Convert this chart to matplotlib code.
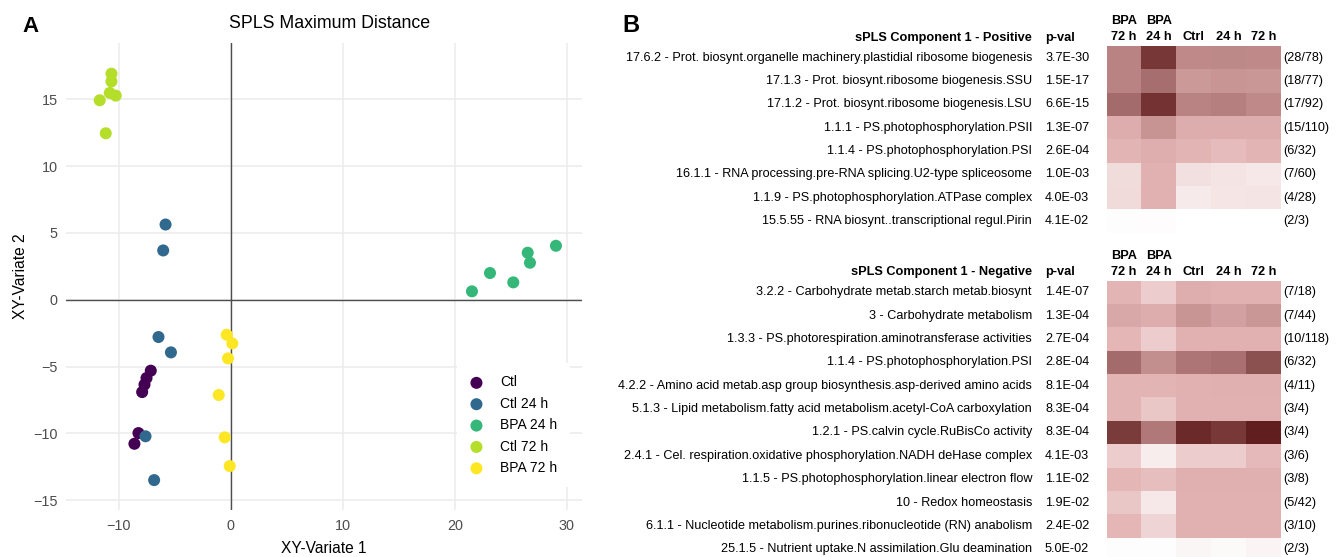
import numpy as np
import matplotlib.pyplot as plt
from matplotlib.colors import LinearSegmentedColormap

plt.rcParams["font.family"] = ["Liberation Sans", "DejaVu Sans"]

# ---- panel A: sPLS scores ----
groups = ["Ctl", "Ctl 24 h", "BPA 24 h", "Ctl 72 h", "BPA 72 h"]
group_colors = ["#440154", "#31688E", "#35B779", "#B5DE2B", "#FDE725"]

ctl_x = [-7.14, -7.52, -7.70, -7.91, -8.24, -8.60]
ctl_y = [-5.31, -5.86, -6.35, -6.91, -9.98, -10.78]
ctl24_x = [-5.82, -6.03, -6.45, -5.34, -7.61, -6.84]
ctl24_y = [5.63, 3.69, -2.79, -3.94, -10.22, -13.50]
bpa24_x = [21.54, 23.15, 25.23, 26.52, 26.72, 29.04]
bpa24_y = [0.63, 2.00, 1.30, 3.52, 2.77, 4.04]
ctl72_x = [-10.65, -10.65, -10.80, -10.27, -11.70, -11.16]
ctl72_y = [16.92, 16.34, 15.48, 15.28, 14.93, 12.46]
bpa72_x = [-0.36, 0.14, -0.24, -1.07, -0.54, -0.09]
bpa72_y = [-2.62, -3.27, -4.39, -7.13, -10.30, -12.45]

x_ticks = [-10, 0, 10, 20, 30]
y_ticks = [-15, -10, -5, 0, 5, 10, 15]

# ---- panel B: enrichment heatmaps ----
col_top = ["BPA", "BPA", "", "", ""]
col_bottom = ["72 h", "24 h", "Ctrl", "24 h", "72 h"]

pos_labels = [
    "17.6.2 - Prot. biosynt.organelle machinery.plastidial ribosome biogenesis",
    "17.1.3 - Prot. biosynt.ribosome biogenesis.SSU",
    "17.1.2 - Prot. biosynt.ribosome biogenesis.LSU",
    "1.1.1 - PS.photophosphorylation.PSII",
    "1.1.4 - PS.photophosphorylation.PSI",
    "16.1.1 - RNA processing.pre-RNA splicing.U2-type spliceosome",
    "1.1.9 - PS.photophosphorylation.ATPase complex",
    "15.5.55 - RNA biosynt..transcriptional regul.Pirin",
]
pos_pvals = ["3.7E-30", "1.5E-17", "6.6E-15", "1.3E-07", "2.6E-04", "1.0E-03", "4.0E-03", "4.1E-02"]
pos_counts = ["(28/78)", "(18/77)", "(17/92)", "(15/110)", "(6/32)", "(7/60)", "(4/28)", "(2/3)"]
pos_values = [
    [0.55, 0.87, 0.52, 0.53, 0.52],
    [0.55, 0.64, 0.45, 0.47, 0.46],
    [0.65, 0.89, 0.55, 0.57, 0.52],
    [0.34, 0.48, 0.34, 0.34, 0.34],
    [0.30, 0.33, 0.30, 0.27, 0.30],
    [0.15, 0.31, 0.14, 0.12, 0.10],
    [0.16, 0.31, 0.09, 0.11, 0.12],
    [0.01, 0.015, 0.0, 0.0, 0.0],
]

neg_labels = [
    "3.2.2 - Carbohydrate metab.starch metab.biosynt",
    "3 - Carbohydrate metabolism",
    "1.3.3 - PS.photorespiration.aminotransferase activities",
    "1.1.4 - PS.photophosphorylation.PSI",
    "4.2.2 - Amino acid metab.asp group biosynthesis.asp-derived amino acids",
    "5.1.3 - Lipid metabolism.fatty acid metabolism.acetyl-CoA carboxylation",
    "1.2.1 - PS.calvin cycle.RuBisCo activity",
    "2.4.1 - Cel. respiration.oxidative phosphorylation.NADH deHase complex",
    "1.1.5 - PS.photophosphorylation.linear electron flow",
    "10 - Redox homeostasis",
    "6.1.1 - Nucleotide metabolism.purines.ribonucleotide (RN) anabolism",
    "25.1.5 - Nutrient uptake.N assimilation.Glu deamination",
]
neg_pvals = ["1.4E-07", "1.3E-04", "2.7E-04", "2.8E-04", "8.1E-04", "8.3E-04",
             "8.3E-04", "4.1E-03", "1.1E-02", "1.9E-02", "2.4E-02", "5.0E-02"]
neg_counts = ["(7/18)", "(7/44)", "(10/118)", "(6/32)", "(4/11)", "(3/4)",
              "(3/4)", "(3/6)", "(3/8)", "(5/42)", "(3/10)", "(2/3)"]
neg_values = [
    [0.30, 0.21, 0.33, 0.31, 0.31],
    [0.37, 0.34, 0.47, 0.41, 0.46],
    [0.29, 0.21, 0.31, 0.31, 0.31],
    [0.65, 0.50, 0.61, 0.63, 0.75],
    [0.30, 0.30, 0.31, 0.32, 0.32],
    [0.30, 0.23, 0.31, 0.31, 0.31],
    [0.85, 0.60, 0.93, 0.86, 0.99],
    [0.21, 0.08, 0.21, 0.21, 0.28],
    [0.29, 0.26, 0.32, 0.32, 0.32],
    [0.23, 0.10, 0.31, 0.31, 0.31],
    [0.29, 0.18, 0.31, 0.31, 0.31],
    [0.01, 0.01, 0.04, 0.03, 0.05],
]

W, H = 1336, 557
fig = plt.figure(figsize=(W / 100, H / 100), dpi=100)


def rect(left, top, width, height):
    # pixel box -> figure fraction
    return [left / W, 1 - (top + height) / H, width / W, height / H]


# ---------------- panel A ----------------
ax = fig.add_axes(rect(66, 42.7, 515.7, 467.6))
series = [(ctl_x, ctl_y), (ctl24_x, ctl24_y), (bpa24_x, bpa24_y),
          (ctl72_x, ctl72_y), (bpa72_x, bpa72_y)]
for (xs, ys), name, col in zip(series, groups, group_colors):
    ax.scatter(xs, ys, s=75, color=col, edgecolors="none", label=name, zorder=3)

ax.axhline(0, color="#4D4D4D", lw=1.0, zorder=2)
ax.axvline(0, color="#4D4D4D", lw=1.0, zorder=2)
ax.set_xlim(-14.71, 31.34)
ax.set_ylim(-15.76, 19.24)
ax.set_xticks(x_ticks)
ax.set_yticks(y_ticks)
ax.set_xticklabels([str(t).replace("-", "\u2212") for t in x_ticks])
ax.set_yticklabels([str(t).replace("-", "\u2212") for t in y_ticks])
ax.grid(True, color="#EBEBEB", lw=1.1, zorder=0)
ax.set_axisbelow(True)
for s in ax.spines.values():
    s.set_visible(False)
ax.tick_params(length=0, labelsize=10.4, labelcolor="#4D4D4D", pad=6)
ax.set_xlabel("XY-Variate 1", fontsize=11.2, labelpad=6)
ax.set_ylabel("XY-Variate 2", fontsize=11.2, labelpad=4)

leg = ax.legend(loc="upper left", bbox_to_anchor=(457 / W, 1 - 363 / H),
                bbox_transform=fig.transFigure, frameon=True, fontsize=10,
                handlelength=1.0, handletextpad=1.2, labelspacing=0.53,
                borderpad=0.9, borderaxespad=0, scatterpoints=1)
leg.get_frame().set_facecolor("white")
leg.get_frame().set_edgecolor("none")
leg.get_frame().set_alpha(1)

fig.text(330 / W, 1 - 23 / H, "SPLS Maximum Distance", ha="center", va="center", fontsize=12.8)
fig.text(22 / W, 1 - 26 / H, "A", ha="left", va="center", fontsize=16, fontweight="bold")
fig.text(622 / W, 1 - 25 / H, "B", ha="left", va="center", fontsize=17, fontweight="bold")

# ---------------- panel B ----------------
cmap = LinearSegmentedColormap.from_list("reds", [
    (0.0, "#FFFFFF"), (0.15, "#F1DCDC"), (0.3, "#E3B3B3"), (0.45, "#CC9999"),
    (0.6, "#B07878"), (0.75, "#8B5252"), (0.9, "#723030"), (1.0, "#601C1C")])

row_h = 23.35
blocks = [
    (46, "sPLS Component 1 - Positive", pos_labels, pos_pvals, pos_counts, pos_values),
    (280.7, "sPLS Component 1 - Negative", neg_labels, neg_pvals, neg_counts, neg_values),
]
fs = 9.1
fs_b = 9.2
for top, title, labels, pvals, counts, values in blocks:
    vals = np.array(values)
    n = len(labels)
    hx = fig.add_axes(rect(1106.5, top, 174.5, n * row_h))
    hx.pcolormesh(vals, cmap=cmap, vmin=0, vmax=1)
    hx.set_xlim(0, vals.shape[1])
    hx.set_ylim(n, 0)
    hx.axis("off")
    tr = hx.get_yaxis_transform()
    for i in range(n):
        y = i + 0.5
        hx.annotate(labels[i], (0, y), xycoords=tr, xytext=(-74.5, 0),
                    textcoords="offset pixels", ha="right", va="center", fontsize=fs)
        hx.annotate(pvals[i], (0, y), xycoords=tr, xytext=(-61.5, 0),
                    textcoords="offset pixels", ha="left", va="center", fontsize=fs)
        hx.annotate(counts[i], (1, y), xycoords=tr, xytext=(2.5, 0),
                    textcoords="offset pixels", ha="left", va="center", fontsize=fs)
    # headers
    y_sub = -8.5 / row_h
    y_top = -25 / row_h
    hx.annotate(title, (0, y_sub), xycoords=tr, xytext=(-74.5, 0), textcoords="offset pixels",
                ha="right", va="center", fontsize=fs_b, fontweight="bold")
    hx.annotate("p-val", (0, y_sub), xycoords=tr, xytext=(-61.5, 0), textcoords="offset pixels",
                ha="left", va="center", fontsize=fs_b, fontweight="bold")
    for j in range(len(col_bottom)):
        hx.text(j + 0.5, y_sub, col_bottom[j], ha="center", va="center",
                fontsize=fs_b, fontweight="bold", clip_on=False)
        if col_top[j]:
            hx.text(j + 0.5, y_top, col_top[j], ha="center", va="center",
                    fontsize=fs_b, fontweight="bold", clip_on=False)

fig.savefig("out.png", dpi=100, facecolor="white")
